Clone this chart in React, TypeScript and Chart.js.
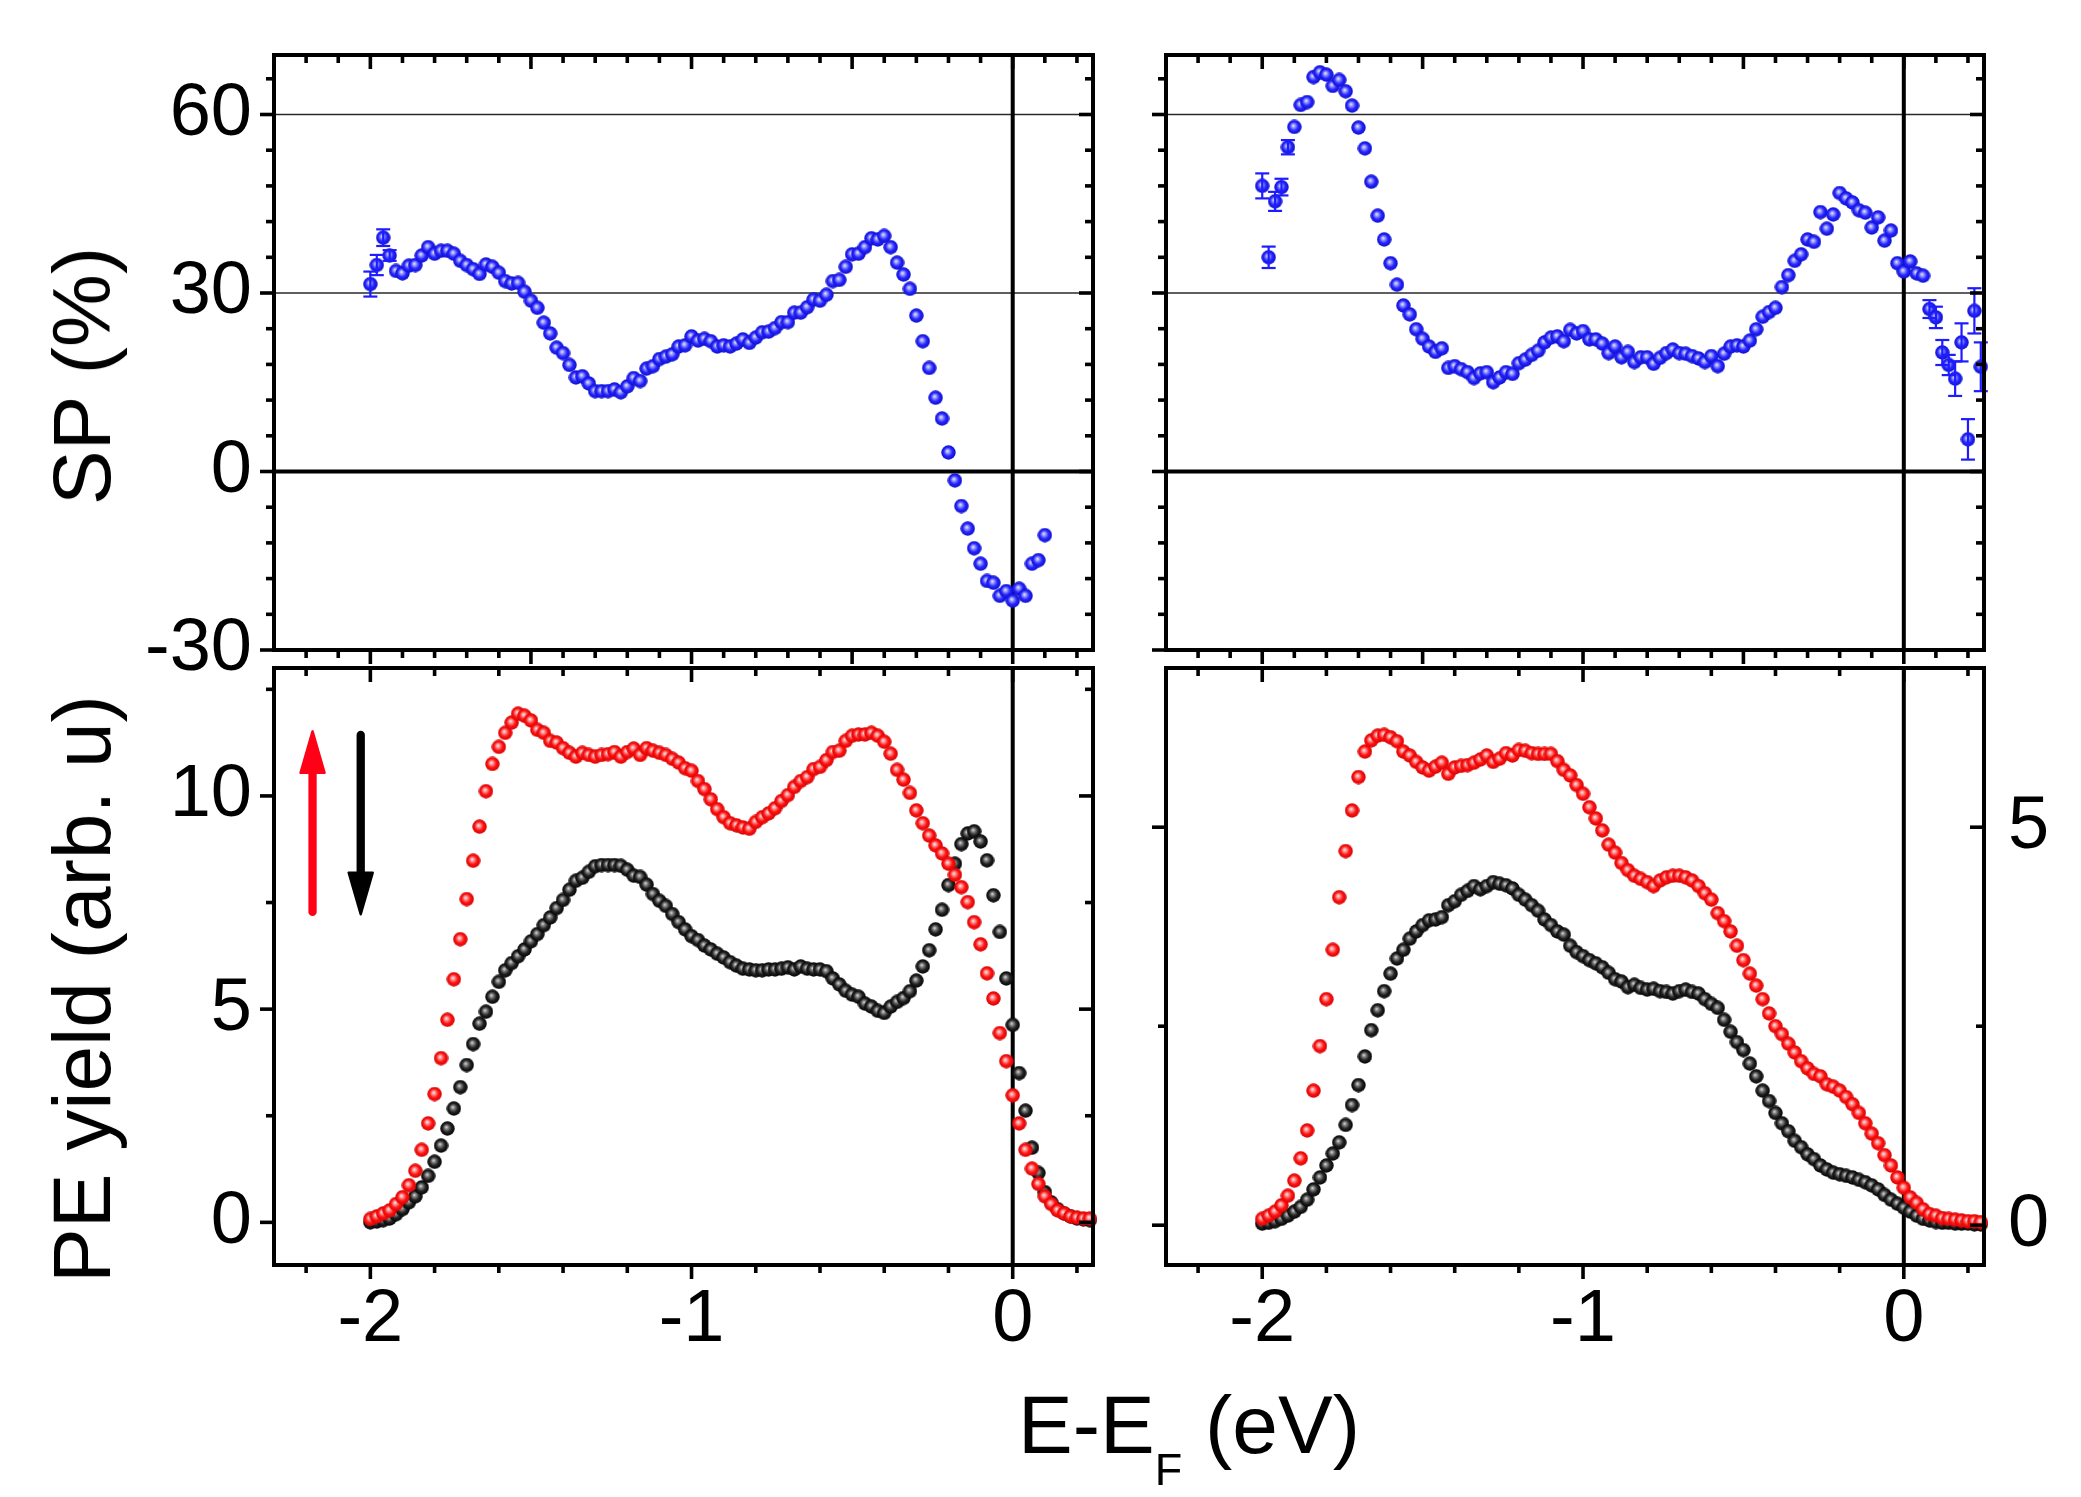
import React, { useEffect, useRef } from "react";
import { Chart, registerables } from "chart.js";

Chart.register(...registerables);

const W = 2081;
const H = 1497;
const OFF = 200; // canvases overhang the page so the layout never has to squeeze the plot area
const FONT = "'Liberation Sans', Arial, Helvetica, sans-serif";

// photon energy grid, E - E_F in eV
const energies = [
  -2.0, -1.98, -1.96, -1.94, -1.92, -1.9, -1.88, -1.86, -1.84, -1.82,
  -1.8, -1.78, -1.76, -1.74, -1.72, -1.7, -1.68, -1.66, -1.64, -1.62,
  -1.6, -1.58, -1.56, -1.54, -1.52, -1.5, -1.48, -1.46, -1.44, -1.42,
  -1.4, -1.38, -1.36, -1.34, -1.32, -1.3, -1.28, -1.26, -1.24, -1.22,
  -1.2, -1.18, -1.16, -1.14, -1.12, -1.1, -1.08, -1.06, -1.04, -1.02,
  -1.0, -0.98, -0.96, -0.94, -0.92, -0.9, -0.88, -0.86, -0.84, -0.82,
  -0.8, -0.78, -0.76, -0.74, -0.72, -0.7, -0.68, -0.66, -0.64, -0.62,
  -0.6, -0.58, -0.56, -0.54, -0.52, -0.5, -0.48, -0.46, -0.44, -0.42,
  -0.4, -0.38, -0.36, -0.34, -0.32, -0.3, -0.28, -0.26, -0.24, -0.22,
  -0.2, -0.18, -0.16, -0.14, -0.12, -0.1, -0.08, -0.06, -0.04, -0.02,
  0.0, 0.02, 0.04, 0.06, 0.08, 0.1, 0.12, 0.14, 0.16, 0.18,
  0.2, 0.22, 0.24,
];

// spin polarization (%)
const spLeft = [
  31.5, 34.7, 39.3, 36.3, 33.7, 33.3, 34.6, 34.7, 36.3, 37.7,
  36.6, 37.1, 37.1, 36.6, 35.4, 34.7, 34.0, 33.2, 34.8, 34.4,
  33.4, 32.0, 31.6, 31.7, 30.2, 28.7, 27.5, 25.0, 23.2, 20.8,
  19.9, 17.9, 15.8, 16.0, 14.8, 13.5, 13.5, 13.5, 13.8, 13.3,
  14.3, 15.7, 15.2, 17.3, 17.7, 18.9, 19.3, 19.7, 21.0, 21.2,
  22.7, 22.0, 22.3, 21.9, 21.0, 21.2, 21.0, 21.5, 22.2, 21.6,
  22.5, 23.4, 23.5, 24.1, 25.1, 25.1, 26.7, 26.7, 27.6, 28.9,
  28.7, 29.7, 32.0, 32.2, 34.4, 36.5, 36.6, 37.7, 39.2, 39.0,
  39.6, 37.7, 35.1, 33.1, 30.7, 26.2, 21.9, 17.4, 12.4, 8.9,
  3.2, -1.5, -5.8, -9.6, -12.9, -15.5, -18.4, -18.7, -20.9, -20.1,
  -21.7, -19.7, -20.9, -15.5, -14.9, -10.7,
];
const spRight = [
  48.0, 36.0, 45.4, 47.8, 54.5, 57.9, 61.6, 62.1, 66.3, 67.1,
  66.7, 64.8, 65.8, 63.9, 61.5, 57.8, 54.3, 48.7, 43.0, 39.0,
  35.0, 31.4, 27.9, 26.4, 23.9, 22.3, 21.0, 20.1, 20.7, 17.4,
  17.7, 17.2, 16.7, 15.7, 16.5, 16.7, 15.0, 15.8, 16.7, 16.4,
  18.2, 18.8, 19.6, 20.3, 21.7, 22.5, 22.7, 21.9, 23.8, 23.2,
  23.6, 22.2, 22.2, 21.5, 19.9, 21.0, 19.2, 20.1, 18.4, 19.2,
  19.2, 18.1, 19.1, 19.9, 20.5, 19.9, 19.8, 19.4, 19.0, 18.4,
  19.4, 17.7, 19.8, 21.0, 21.2, 21.0, 22.0, 23.9, 26.0, 26.8,
  27.5, 31.0, 33.0, 35.4, 36.5, 39.0, 38.6, 43.6, 40.8, 43.2,
  46.8, 45.9, 45.2, 43.9, 43.5, 41.0, 42.7, 38.8, 40.5, 35.0,
  33.6, 35.3, 33.3, 32.9, 27.3, 25.9, 20.0, 17.9, 15.6, 21.7,
  5.4, 27.0, 17.6,
];
const spLeftErrE = [-2.0, -1.98, -1.96, -1.94];
const spLeftErr = [2.1, 1.7, 1.4, 0.9];
const spRightErrE = [-2.0, -1.98, -1.96, -1.94, -1.92, 0.08, 0.1, 0.12, 0.14, 0.16, 0.18, 0.2, 0.22, 0.24];
const spRightErr = [2.1, 1.8, 1.6, 1.4, 1.2, 1.5, 1.8, 2.1, 1.7, 2.9, 3.2, 3.4, 3.8, 4.1];

// photoemission yield (arb. u.), spin up / spin down
const upLeft = [
  0.08, 0.14, 0.21, 0.28, 0.43, 0.59, 0.87, 1.21, 1.7, 2.32,
  3.01, 3.85, 4.75, 5.7, 6.64, 7.58, 8.48, 9.28, 10.11, 10.75,
  11.15, 11.48, 11.72, 11.93, 11.88, 11.77, 11.55, 11.48, 11.29, 11.25,
  11.12, 11.01, 10.92, 11.01, 10.96, 10.92, 10.96, 10.98, 11.03, 10.92,
  11.03, 11.11, 10.96, 11.12, 11.06, 11.01, 10.96, 10.87, 10.78, 10.65,
  10.59, 10.35, 10.16, 9.92, 9.69, 9.5, 9.36, 9.31, 9.26, 9.23,
  9.39, 9.5, 9.59, 9.71, 9.88, 10.02, 10.21, 10.35, 10.44, 10.63,
  10.68, 10.84, 11.03, 11.06, 11.29, 11.41, 11.44, 11.44, 11.48, 11.41,
  11.27, 10.99, 10.61, 10.38, 10.07, 9.66, 9.36, 9.07, 8.84, 8.65,
  8.41, 8.15, 7.86, 7.51, 7.04, 6.52, 5.84, 5.25, 4.44, 3.78,
  2.98, 2.32, 1.7, 1.26, 0.9, 0.61, 0.43, 0.28, 0.21, 0.14,
  0.11, 0.09, 0.09,
];
const downLeft = [
  0.0, 0.02, 0.05, 0.09, 0.19, 0.31, 0.47, 0.61, 0.82, 1.09,
  1.42, 1.8, 2.2, 2.67, 3.17, 3.69, 4.18, 4.66, 4.94, 5.29,
  5.64, 5.91, 6.08, 6.24, 6.4, 6.59, 6.76, 6.97, 7.15, 7.37,
  7.56, 7.8, 8.01, 8.08, 8.22, 8.35, 8.38, 8.38, 8.38, 8.36,
  8.27, 8.13, 8.1, 7.92, 7.7, 7.54, 7.42, 7.23, 7.04, 6.87,
  6.71, 6.62, 6.49, 6.4, 6.3, 6.21, 6.1, 6.02, 5.95, 5.93,
  5.91, 5.91, 5.93, 5.93, 5.95, 5.98, 5.93, 6.0, 5.95, 5.93,
  5.93, 5.89, 5.72, 5.58, 5.43, 5.34, 5.29, 5.13, 5.06, 4.96,
  4.91, 5.06, 5.17, 5.26, 5.42, 5.67, 6.0, 6.38, 6.87, 7.33,
  7.91, 8.41, 8.87, 9.12, 9.17, 8.93, 8.49, 7.67, 6.81, 5.72,
  4.63, 3.5, 2.62, 1.75, 1.16, 0.71, 0.47, 0.31, 0.21, 0.14,
  0.09, 0.07, 0.05,
];
const upRight = [
  0.08, 0.12, 0.17, 0.25, 0.37, 0.56, 0.84, 1.19, 1.69, 2.25,
  2.84, 3.46, 4.12, 4.7, 5.21, 5.63, 5.95, 6.09, 6.15, 6.16,
  6.13, 6.08, 5.95, 5.9, 5.82, 5.75, 5.71, 5.76, 5.81, 5.67,
  5.75, 5.77, 5.78, 5.81, 5.85, 5.9, 5.82, 5.86, 5.93, 5.9,
  5.97, 5.96, 5.93, 5.92, 5.92, 5.92, 5.83, 5.72, 5.65, 5.53,
  5.42, 5.25, 5.11, 4.96, 4.78, 4.68, 4.55, 4.46, 4.39, 4.35,
  4.31, 4.26, 4.33, 4.37, 4.39, 4.39, 4.37, 4.33, 4.26, 4.17,
  4.09, 3.92, 3.82, 3.69, 3.51, 3.33, 3.16, 3.01, 2.84, 2.66,
  2.5, 2.4, 2.28, 2.17, 2.06, 1.97, 1.9, 1.87, 1.77, 1.74,
  1.69, 1.61, 1.52, 1.41, 1.28, 1.15, 1.03, 0.88, 0.75, 0.6,
  0.47, 0.35, 0.28, 0.2, 0.14, 0.12, 0.09, 0.08, 0.07, 0.06,
  0.05, 0.05, 0.04,
];
const downRight = [
  0.02, 0.03, 0.05, 0.08, 0.12, 0.17, 0.23, 0.32, 0.45, 0.6,
  0.75, 0.9, 1.04, 1.26, 1.51, 1.76, 2.12, 2.45, 2.7, 2.94,
  3.16, 3.35, 3.46, 3.6, 3.69, 3.77, 3.83, 3.84, 3.87, 4.02,
  4.07, 4.15, 4.2, 4.26, 4.22, 4.26, 4.31, 4.29, 4.27, 4.23,
  4.15, 4.09, 4.02, 3.95, 3.84, 3.77, 3.69, 3.65, 3.51, 3.43,
  3.38, 3.33, 3.29, 3.24, 3.17, 3.09, 3.06, 2.99, 3.02, 2.98,
  2.96, 2.97, 2.94, 2.93, 2.91, 2.94, 2.96, 2.93, 2.91, 2.84,
  2.78, 2.73, 2.58, 2.43, 2.3, 2.2, 2.03, 1.87, 1.69, 1.56,
  1.41, 1.28, 1.18, 1.06, 0.98, 0.89, 0.83, 0.75, 0.7, 0.66,
  0.64, 0.62, 0.6, 0.57, 0.54, 0.5, 0.45, 0.38, 0.32, 0.27,
  0.22, 0.17, 0.12, 0.08, 0.06, 0.04, 0.03, 0.03, 0.02, 0.02,
  0.02, 0.01, 0.01,
];

// ticks
const eLabels = [-2, -1, 0];
const eMajorTop = [-2, -1.5, -1, -0.5, 0];
const eMinorTop = [-2.2, -2.1, -1.9, -1.8, -1.7, -1.6, -1.4, -1.3, -1.2, -1.1, -0.9, -0.8, -0.7, -0.6, -0.4, -0.3, -0.2, -0.1, 0.1, 0.2];
const eMajorBottom = [-2, -1, 0];
const eMinorBottom = [-2.2, -1.8, -1.6, -1.4, -1.2, -0.8, -0.6, -0.4, -0.2, 0.2];
const spLabels = [-30, 0, 30, 60];
const spMinor = [-24, -18, -12, -6, 6, 12, 18, 24, 36, 42, 48, 54, 66];
const spGrid = [30, 60];
const yieldLabelsL = [0, 5, 10];
const yieldMinorL = [2.5, 7.5, 12.5];
const yieldLabelsR = [0, 5];
const yieldMinorR = [2.5];

// spin arrows in the lower left panel (data units)
const arrowX = [-2.18, -2.03];
const arrowFrom = [7.28, 11.43];
const arrowTo = [11.55, 7.19];
const arrowColor = ["#ff0016", "#000000"];

type BallKind = "red" | "black" | "blue";
const BALL_COLORS: Record<BallKind, string[]> = {
  red: ["#fff2f2", "#ff9e9e", "#ff1414", "#d40000"],
  black: ["#e6e6e6", "#8a8a8a", "#242424", "#000000"],
  blue: ["#f2f2ff", "#a0a0ff", "#2626ff", "#0c0cc8"],
};
const ballCache: Partial<Record<BallKind, HTMLCanvasElement>> = {};
function ball(kind: BallKind) {
  const hit = ballCache[kind];
  if (hit) return hit;
  const d = 15;
  const c = document.createElement("canvas");
  c.width = d;
  c.height = d;
  const g = c.getContext("2d")!;
  const [c0, c1, c2, c3] = BALL_COLORS[kind];
  const grad = g.createRadialGradient(d * 0.42, d * 0.4, 0, d / 2, d / 2, d / 2);
  grad.addColorStop(0, c0);
  grad.addColorStop(0.22, c1);
  grad.addColorStop(0.58, c2);
  grad.addColorStop(1, c3);
  g.fillStyle = grad;
  g.beginPath();
  g.arc(d / 2, d / 2, d / 2 - 0.3, 0, Math.PI * 2);
  g.fill();
  ballCache[kind] = c;
  return c;
}

type Series = { values: number[]; ball: BallKind; errE?: number[]; err?: number[] };
type PanelCfg = {
  area: [number, number, number, number];
  yMin: number;
  yMax: number;
  series: Series[];
  xMajor: number[];
  xMinor: number[];
  xLabels: number[] | null;
  yMajor: number[];
  yMinor: number[];
  yLabels: number[] | null;
  rLabels: number[] | null;
  grid: number[];
  zeroY: boolean;
  arrows: boolean;
};

const LEFT = [274, 1093];
const RIGHT = [1166, 1984];
const TOP = [55, 650];
const BOTTOM = [668, 1265];

const panels: PanelCfg[] = [
  {
    area: [LEFT[0], TOP[0], LEFT[1], TOP[1]],
    yMin: -30, yMax: 70,
    series: [{ values: spLeft, ball: "blue", errE: spLeftErrE, err: spLeftErr }],
    xMajor: eMajorTop, xMinor: eMinorTop, xLabels: null,
    yMajor: spLabels, yMinor: spMinor, yLabels: spLabels, rLabels: null,
    grid: spGrid, zeroY: true, arrows: false,
  },
  {
    area: [RIGHT[0], TOP[0], RIGHT[1], TOP[1]],
    yMin: -30, yMax: 70,
    series: [{ values: spRight, ball: "blue", errE: spRightErrE, err: spRightErr }],
    xMajor: eMajorTop, xMinor: eMinorTop, xLabels: null,
    yMajor: spLabels, yMinor: spMinor, yLabels: null, rLabels: null,
    grid: spGrid, zeroY: true, arrows: false,
  },
  {
    area: [LEFT[0], BOTTOM[0], LEFT[1], BOTTOM[1]],
    yMin: -1, yMax: 13,
    series: [
      { values: upLeft, ball: "red" },
      { values: downLeft, ball: "black" },
    ],
    xMajor: eMajorBottom, xMinor: eMinorBottom, xLabels: eLabels,
    yMajor: yieldLabelsL, yMinor: yieldMinorL, yLabels: yieldLabelsL, rLabels: null,
    grid: [], zeroY: false, arrows: true,
  },
  {
    area: [RIGHT[0], BOTTOM[0], RIGHT[1], BOTTOM[1]],
    yMin: -0.5, yMax: 7,
    series: [
      { values: upRight, ball: "red" },
      { values: downRight, ball: "black" },
    ],
    xMajor: eMajorBottom, xMinor: eMinorBottom, xLabels: eLabels,
    yMajor: yieldLabelsR, yMinor: yieldMinorR, yLabels: null, rLabels: yieldLabelsR,
    grid: [], zeroY: false, arrows: false,
  },
];

function seg(ctx: CanvasRenderingContext2D, x0: number, y0: number, x1: number, y1: number) {
  ctx.beginPath();
  ctx.moveTo(x0, y0);
  ctx.lineTo(x1, y1);
  ctx.stroke();
}

function drawArrow(ctx: CanvasRenderingContext2D, x: number, y0: number, y1: number, color: string) {
  const dir = Math.sign(y1 - y0);
  const headL = 43;
  const headW = 12;
  ctx.strokeStyle = color;
  ctx.fillStyle = color;
  ctx.lineWidth = 8.3;
  ctx.lineCap = "round";
  seg(ctx, x, y0, x, y1 - dir * headL * 0.9);
  ctx.lineWidth = 2.5;
  ctx.lineJoin = "round";
  ctx.beginPath();
  ctx.moveTo(x, y1 - dir * 1.5);
  ctx.lineTo(x - headW, y1 - dir * headL);
  ctx.lineTo(x + headW, y1 - dir * headL);
  ctx.closePath();
  ctx.fill();
  ctx.stroke();
}

function decorPlugin(p: PanelCfg) {
  return {
    id: "decor",
    beforeDatasetsDraw(chart: any) {
      const { ctx, chartArea: a, scales } = chart;
      const xs = scales.x;
      const ys = scales.y;
      ctx.save();
      ctx.strokeStyle = "#2a2a2a";
      ctx.lineWidth = 1.3;
      p.grid.forEach((v) => {
        const py = ys.getPixelForValue(v);
        seg(ctx, a.left, py, a.right, py);
      });
      ctx.strokeStyle = "#000";
      ctx.lineWidth = 4;
      if (p.zeroY) {
        const py = ys.getPixelForValue(0);
        seg(ctx, a.left, py, a.right, py);
      }
      const px0 = xs.getPixelForValue(0);
      seg(ctx, px0, a.top, px0, a.bottom);
      ctx.restore();
    },
    afterDatasetsDraw(chart: any) {
      const { ctx, scales } = chart;
      const xs = scales.x;
      const ys = scales.y;
      ctx.save();
      ctx.strokeStyle = "#1c1cff";
      ctx.lineWidth = 2.2;
      p.series.forEach((s) => {
        if (!s.errE || !s.err) return;
        s.errE.forEach((e, k) => {
          const i = energies.findIndex((v) => Math.abs(v - e) < 1e-6);
          if (i < 0 || i >= s.values.length) return;
          const px = xs.getPixelForValue(e);
          const hi = ys.getPixelForValue(s.values[i] + s.err![k]);
          const lo = ys.getPixelForValue(s.values[i] - s.err![k]);
          seg(ctx, px, hi, px, lo);
          seg(ctx, px - 7, hi, px + 7, hi);
          seg(ctx, px - 7, lo, px + 7, lo);
        });
      });
      ctx.restore();
    },
    afterDraw(chart: any) {
      const { ctx, chartArea: a, scales } = chart;
      const xs = scales.x;
      const ys = scales.y;
      ctx.save();
      ctx.strokeStyle = "#000";
      ctx.lineCap = "butt";
      ctx.lineWidth = 4;
      ctx.strokeRect(a.left, a.top, a.right - a.left, a.bottom - a.top);
      ctx.lineWidth = 3.6;
      const xt = (vals: number[], len: number) =>
        vals.forEach((v) => {
          const px = xs.getPixelForValue(v);
          seg(ctx, px, a.bottom, px, a.bottom + len);
          seg(ctx, px, a.top, px, a.top + len);
        });
      const yt = (vals: number[], len: number) =>
        vals.forEach((v) => {
          const py = ys.getPixelForValue(v);
          seg(ctx, a.left - len, py, a.left, py);
          seg(ctx, a.right - len, py, a.right, py);
        });
      xt(p.xMajor, 14);
      xt(p.xMinor, 8);
      yt(p.yMajor, 14);
      yt(p.yMinor, 8);
      if (p.arrows) {
        arrowX.forEach((x, k) => {
          drawArrow(
            ctx,
            xs.getPixelForValue(x),
            ys.getPixelForValue(arrowFrom[k]),
            ys.getPixelForValue(arrowTo[k]),
            arrowColor[k]
          );
        });
      }
      ctx.restore();
    },
  };
}

const CW = W + 2 * OFF;
const CH = H + 2 * OFF;
const YAXIS_W = 220;
const XAXIS_H = 150;
const RAXIS_W = 150;

function buildConfig(p: PanelCfg): any {
  const [l, t, r, b] = p.area;
  const tickFont = { family: FONT, size: 74 };
  const fmt = (v: any) => String(v);
  const rightW = p.rLabels ? RAXIS_W : 0;
  const scales: any = {
    x: {
      type: "linear",
      position: "bottom",
      min: -2.3,
      max: 0.25,
      grid: { display: false, drawTicks: false },
      border: { display: false },
      afterBuildTicks: (s: any) => {
        s.ticks = (p.xLabels ?? eMajorBottom).map((value) => ({ value }));
      },
      afterFit: (s: any) => {
        s.height = XAXIS_H;
      },
      ticks: {
        display: !!p.xLabels,
        autoSkip: false,
        minRotation: 0,
        maxRotation: 0,
        padding: 11,
        color: "#000",
        font: tickFont,
        callback: fmt,
      },
    },
    y: {
      type: "linear",
      position: "left",
      min: p.yMin,
      max: p.yMax,
      grid: { display: false, drawTicks: false },
      border: { display: false },
      afterBuildTicks: (s: any) => {
        s.ticks = (p.yLabels ?? p.yMajor).map((value) => ({ value }));
      },
      afterFit: (s: any) => {
        s.width = YAXIS_W;
      },
      ticks: {
        display: !!p.yLabels,
        autoSkip: false,
        padding: 22,
        color: "#000",
        font: tickFont,
        callback: fmt,
      },
    },
  };
  if (p.rLabels) {
    scales.y2 = {
      type: "linear",
      position: "right",
      min: p.yMin,
      max: p.yMax,
      grid: { display: false, drawTicks: false },
      border: { display: false },
      afterBuildTicks: (s: any) => {
        s.ticks = p.rLabels!.map((value) => ({ value }));
      },
      afterFit: (s: any) => {
        s.width = RAXIS_W;
      },
      ticks: {
        autoSkip: false,
        padding: 24,
        color: "#000",
        font: tickFont,
        callback: fmt,
      },
    };
  }
  return {
    type: "scatter",
    data: {
      datasets: p.series.map((s) => ({
        data: s.values.map((v, i) => ({ x: energies[i], y: v })),
        pointStyle: ball(s.ball),
        pointRadius: 7,
        showLine: false,
        clip: 8,
      })),
    },
    options: {
      responsive: false,
      animation: false,
      devicePixelRatio: 1,
      events: [],
      layout: {
        padding: {
          left: l + OFF - YAXIS_W,
          top: t + OFF,
          right: CW - (r + OFF) - rightW,
          bottom: CH - (b + OFF) - XAXIS_H,
        },
      },
      plugins: { legend: { display: false }, tooltip: { enabled: false } },
      scales,
    },
    plugins: [decorPlugin(p)],
  };
}

function Panel({ cfg }: { cfg: PanelCfg }) {
  const canvasRef = useRef<HTMLCanvasElement | null>(null);
  useEffect(() => {
    const ctx = canvasRef.current?.getContext("2d");
    if (!ctx) return;
    const chart = new Chart(ctx, buildConfig(cfg));
    return () => {
      chart.destroy();
    };
  }, [cfg]);
  return (
    <canvas
      ref={canvasRef}
      width={CW}
      height={CH}
      style={{ position: "absolute", left: -OFF, top: -OFF, width: CW, height: CH }}
    />
  );
}

const yTitle = (top: number): React.CSSProperties => ({
  position: "absolute",
  left: 82,
  top,
  transform: "translate(-50%, -50%) rotate(-90deg)",
  fontSize: 82,
  lineHeight: 1,
  whiteSpace: "nowrap",
  color: "#000",
});

export default function App() {
  return (
    <div
      style={{
        position: "absolute",
        left: 0,
        top: 0,
        width: W,
        height: H,
        overflow: "hidden",
        background: "#fff",
        fontFamily: FONT,
      }}
    >
      {panels.map((p, i) => (
        <Panel key={i} cfg={p} />
      ))}
      <div style={yTitle(376)}>SP (%)</div>
      <div style={yTitle(989)}>PE yield (arb. u)</div>
      <div
        style={{
          position: "absolute",
          left: 1189,
          top: 1384,
          transform: "translateX(-50%)",
          fontSize: 82,
          lineHeight: 1,
          whiteSpace: "nowrap",
          color: "#000",
        }}
      >
        E-E
        <span style={{ fontSize: 45, verticalAlign: -32 }}>F</span> (eV)
      </div>
    </div>
  );
}
